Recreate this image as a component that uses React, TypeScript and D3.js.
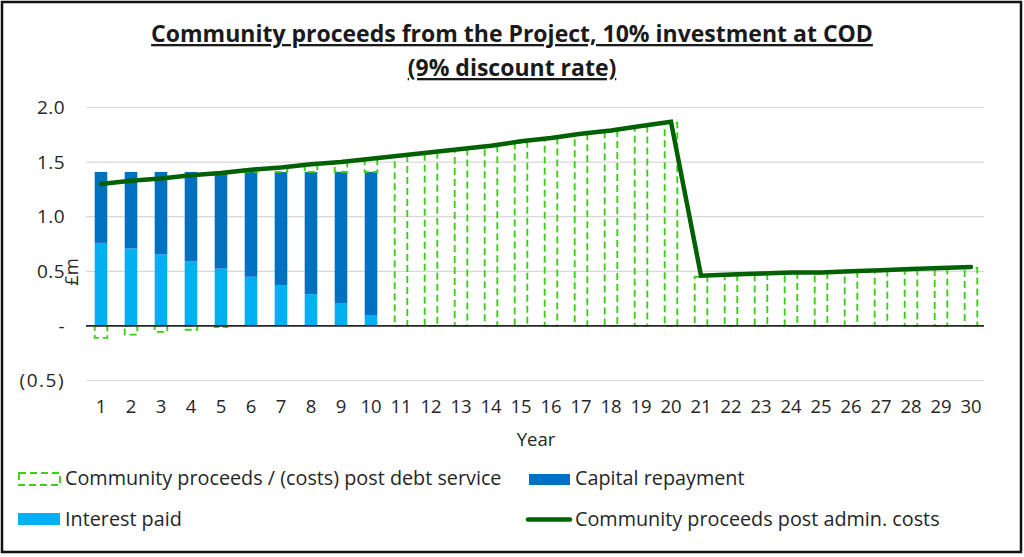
import * as d3 from "d3";

// Year labels on the category axis
const years = ["1", "2", "3", "4", "5", "6", "7", "8", "9", "10", "11", "12", "13", "14", "15", "16", "17", "18", "19", "20", "21", "22", "23", "24", "25", "26", "27", "28", "29", "30"];

// £m
const interestPaid = [0.76, 0.71, 0.655, 0.59, 0.525, 0.45, 0.375, 0.29, 0.21, 0.1, 0, 0, 0, 0, 0, 0, 0, 0, 0, 0, 0, 0, 0, 0, 0, 0, 0, 0, 0, 0];
const capitalRepayment = [0.65, 0.7, 0.755, 0.82, 0.885, 0.96, 1.035, 1.12, 1.2, 1.31, 0, 0, 0, 0, 0, 0, 0, 0, 0, 0, 0, 0, 0, 0, 0, 0, 0, 0, 0, 0];
const postDebtService = [-0.11, -0.08, -0.055, -0.035, -0.01, 0.015, 0.035, 0.065, 0.09, 0.11, 1.55, 1.58, 1.61, 1.64, 1.68, 1.71, 1.75, 1.78, 1.82, 1.86, 0.45, 0.46, 0.47, 0.48, 0.48, 0.49, 0.5, 0.51, 0.52, 0.53];
const postAdminCosts = [1.3, 1.33, 1.35, 1.38, 1.4, 1.43, 1.45, 1.48, 1.5, 1.53, 1.56, 1.59, 1.62, 1.65, 1.69, 1.72, 1.76, 1.79, 1.83, 1.87, 0.46, 0.47, 0.48, 0.49, 0.49, 0.5, 0.51, 0.52, 0.53, 0.54];
const yTicks = [-0.5, 0, 0.5, 1.0, 1.5, 2.0];

const legendLabels = {
  proceeds: "Community proceeds / (costs) post debt service",
  capital: "Capital repayment",
  interest: "Interest paid",
  admin: "Community proceeds post admin. costs",
};

const W = 1024;
const H = 557;
const FONT = "'Open Sans', 'DejaVu Sans', sans-serif";
const GREEN_DASH = "#3ccf16";
const DARK_GREEN = "#006100";
const BLUE = "#0070c0";
const LIGHT_BLUE = "#00b0f0";
const INK = "#262626";

const keys = ["interest", "capital", "proceeds"] as const;
type Row = { year: string; interest: number; capital: number; proceeds: number };

const rows: Row[] = years.map((year, i) => ({
  year,
  interest: interestPaid[i],
  capital: capitalRepayment[i],
  proceeds: postDebtService[i],
}));

const fmtTick = (v: number) => {
  if (Math.abs(v) < 1e-9) return "-";
  if (v < 0) return `(${d3.format(".1f")(-v)})`;
  return d3.format(".1f")(v);
};

export default function App() {
  const x = d3.scaleBand<string>().domain(years).range([86, 986]).paddingInner(0.58).paddingOuter(0.29);
  const y = d3.scaleLinear().domain([-0.5, 2.0]).range([380.5, 107.5]);
  const cx = (year: string) => (x(year) ?? 0) + x.bandwidth() / 2;

  const series = d3.stack<Row>().keys(keys as unknown as string[]).offset(d3.stackOffsetDiverging)(rows);
  const fills: Record<string, string> = { interest: LIGHT_BLUE, capital: BLUE };

  const line = d3
    .line<number>()
    .x((_, i) => cx(years[i]))
    .y((d) => y(d));

  return (
    <svg width={W} height={H} style={{ position: "absolute", left: 0, top: 0, background: "#fff" }} fontFamily={FONT}>
      <rect x={2} y={2} width={1019} height={550} fill="#fff" stroke="#111" strokeWidth={2.5} />

      {/* title */}
      <text x={512} y={42} textAnchor="middle" fontSize={23} fontWeight={700} fill="#1a1a1a" textDecoration="underline">
        Community proceeds from the Project, 10% investment at COD
      </text>
      <text x={512} y={76} textAnchor="middle" fontSize={23} fontWeight={700} fill="#1a1a1a" textDecoration="underline">
        (9% discount rate)
      </text>

      {/* gridlines + y ticks */}
      {yTicks.map((t) => (
        <g key={t}>
          {t !== 0 && <line x1={86} x2={984} y1={y(t)} y2={y(t)} stroke="#d9d9d9" strokeWidth={1.2} />}
          <text x={65} y={y(t)} dy="0.35em" textAnchor="end" fontSize={19} fill={INK} letterSpacing={t < 0 ? 1.5 : 0.4}>
            {fmtTick(t)}
          </text>
        </g>
      ))}

      {/* stacked bars */}
      {series
        .filter((s) => s.key !== "proceeds")
        .map((s) => (
          <g key={s.key} fill={fills[s.key]}>
            {s.map((d, i) =>
              d[1] - d[0] > 0 ? (
                <rect key={i} x={x(years[i])} width={x.bandwidth()} y={y(d[1])} height={y(d[0]) - y(d[1])} />
              ) : null
            )}
          </g>
        ))}
      {series
        .filter((s) => s.key === "proceeds")
        .map((s) => (
          <g key={s.key} fill="none" stroke={GREEN_DASH} strokeWidth={1.9} strokeDasharray="7 4">
            {s.map((d, i) => (
              <rect
                key={i}
                x={x(years[i])}
                width={x.bandwidth()}
                y={y(Math.max(d[0], d[1]))}
                height={Math.abs(y(d[0]) - y(d[1]))}
              />
            ))}
          </g>
        ))}

      {/* zero axis */}
      <line x1={86} x2={984} y1={y(0)} y2={y(0)} stroke={INK} strokeWidth={1.6} />

      {/* line series */}
      <path d={line(postAdminCosts) ?? ""} fill="none" stroke={DARK_GREEN} strokeWidth={4.5} strokeLinecap="round" />

      {/* x ticks */}
      {years.map((yr) => (
        <text key={yr} x={cx(yr)} y={407} dy="0.35em" textAnchor="middle" fontSize={18.5} fill={INK}>
          {yr}
        </text>
      ))}

      {/* axis titles */}
      <text x={536} y={440} dy="0.35em" textAnchor="middle" fontSize={18.5} fill={INK}>
        Year
      </text>
      <text transform="translate(72,272) rotate(-90)" dy="0.35em" textAnchor="middle" fontSize={18.5} fill={INK}>
        £m
      </text>

      {/* legend */}
      <g fontSize={19.8} fill={INK}>
        <rect x={19} y={473} width={41} height={12} fill="none" stroke={GREEN_DASH} strokeWidth={1.9} strokeDasharray="7 4" />
        <text x={65} y={478.5} dy="0.35em">{legendLabels.proceeds}</text>
        <rect x={529} y={474} width={41} height={11} fill={BLUE} />
        <text x={575} y={478.5} dy="0.35em">{legendLabels.capital}</text>
        <rect x={18} y={513} width={42} height={12} fill={LIGHT_BLUE} />
        <text x={65} y={519.5} dy="0.35em">{legendLabels.interest}</text>
        <line x1={528} x2={570} y1={519.5} y2={519.5} stroke={DARK_GREEN} strokeWidth={4.5} strokeLinecap="round" />
        <text x={575} y={519.5} dy="0.35em">{legendLabels.admin}</text>
      </g>
    </svg>
  );
}
